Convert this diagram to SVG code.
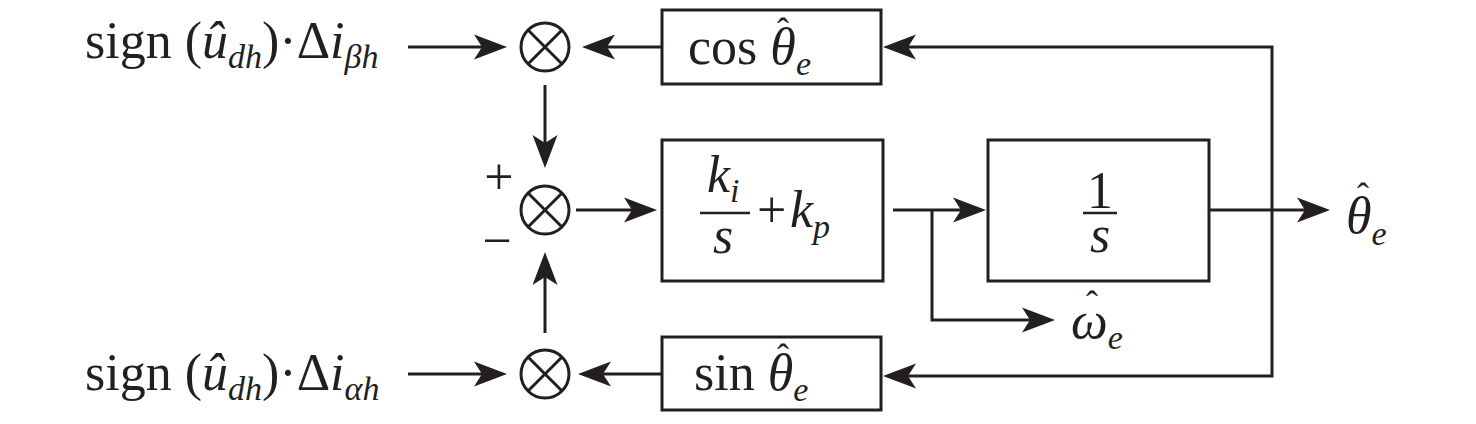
<svg xmlns="http://www.w3.org/2000/svg" width="1476" height="424" viewBox="0 0 1476 424">
<style>
.t{font-family:"Liberation Serif","Times New Roman",serif;font-size:52px;fill:#231f20}
.i{font-style:italic}
.s{font-size:34px;font-style:italic}
.h{font-size:36px;font-style:normal}
.box{fill:none;stroke:#231f20;stroke-width:3}
.ln{fill:none;stroke:#231f20;stroke-width:3;marker-end:url(#arr)}
.bar{stroke:#231f20;stroke-width:2.5}
</style>
<defs>
<marker id="arr" markerUnits="userSpaceOnUse" orient="auto" overflow="visible" refX="0" refY="0" markerWidth="40" markerHeight="30">
<path d="M20,0 L-13,-12.5 L-5,0 L-13,12.5 Z" fill="#231f20"/>
</marker>
<g id="mult">
<circle cx="0" cy="0" r="24" fill="none" stroke="#231f20" stroke-width="3"/>
<path d="M-17,-17 L17,17 M17,-17 L-17,17" stroke="#231f20" stroke-width="3"/>
</g>
</defs>
<rect width="1476" height="424" fill="#fff"/>

<g id="input-beta">
<text class="t" x="85" y="58">sign (<tspan class="i">û</tspan><tspan class="s" dy="10">dh</tspan><tspan dy="-10">)·Δ</tspan><tspan class="i">i</tspan><tspan class="s" dy="10">βh</tspan></text>
</g>
<g id="input-alpha">
<text class="t" x="85" y="390">sign (<tspan class="i">û</tspan><tspan class="s" dy="10">dh</tspan><tspan dy="-10">)·Δ</tspan><tspan class="i">i</tspan><tspan class="s" dy="10">αh</tspan></text>
</g>

<g id="mult-top"><use href="#mult" x="545" y="47"/></g>
<g id="mult-mid"><use href="#mult" x="545" y="210"/>
<text class="t" x="499" y="194" text-anchor="middle" font-size="46">+</text>
<text class="t" x="497" y="258" text-anchor="middle" font-size="46">−</text>
</g>
<g id="mult-bot"><use href="#mult" x="545" y="374"/></g>

<g id="cos-box">
<rect class="box" x="662" y="10" width="219" height="74"/>
<text class="t" x="688" y="64">cos <tspan class="i">θ</tspan><tspan class="s" dy="11">e</tspan><tspan class="h" x="777" y="43">ˆ</tspan></text>
</g>

<g id="sin-box">
<rect class="box" x="662" y="337" width="219" height="73"/>
<text class="t" x="694" y="390">sin <tspan class="i">θ</tspan><tspan class="s" dy="11">e</tspan><tspan class="h" x="777" y="369">ˆ</tspan></text>
</g>

<g id="pi-box">
<rect class="box" x="662" y="140" width="221" height="141"/>
<text class="t i" x="707" y="192" font-size="54">k<tspan class="s" dy="10">i</tspan></text>
<line class="bar" x1="700" y1="213" x2="750" y2="213"/>
<text class="t i" x="713" y="253" font-size="54">s</text>
<text class="t" x="757" y="227" font-size="54">+</text>
<text class="t i" x="790" y="227" font-size="54">k<tspan class="s" dy="11">p</tspan></text>
</g>

<g id="int-box">
<rect class="box" x="988" y="140" width="221" height="141"/>
<text class="t" x="1100" y="208" text-anchor="middle" font-size="54">1</text>
<line class="bar" x1="1083" y1="213" x2="1117" y2="213"/>
<text class="t i" x="1100" y="252" text-anchor="middle" font-size="54">s</text>
</g>

<g id="theta-out">
<text class="t i" x="1346" y="233" font-size="60">θ<tspan class="s" dy="12">e</tspan><tspan class="h" x="1357" y="208">ˆ</tspan></text>
</g>

<g id="omega-out">
<text class="t i" x="1071" y="338" font-size="58">ω<tspan class="s" dy="11">e</tspan><tspan class="h" x="1086" y="316">ˆ</tspan></text>
</g>

<g id="connectors">
<line class="ln" x1="408" y1="47" x2="487" y2="47"/>
<line class="ln" x1="408" y1="374" x2="487" y2="374"/>
<line class="ln" x1="662" y1="47" x2="602" y2="47"/>
<line class="ln" x1="662" y1="374" x2="598" y2="374"/>
<line class="ln" x1="545" y1="85" x2="545" y2="148"/>
<line class="ln" x1="545" y1="333" x2="545" y2="272"/>
<line class="ln" x1="576" y1="210" x2="637" y2="210"/>
<line class="ln" x1="893" y1="210" x2="966" y2="210"/>
<path class="ln" d="M932,210 V320 H1035"/>
<line class="ln" x1="1209" y1="210" x2="1310" y2="210"/>
<path class="ln" d="M1272,210 V47 H903"/>
<path class="ln" d="M1272,210 V376 H903"/>
</g>
</svg>
